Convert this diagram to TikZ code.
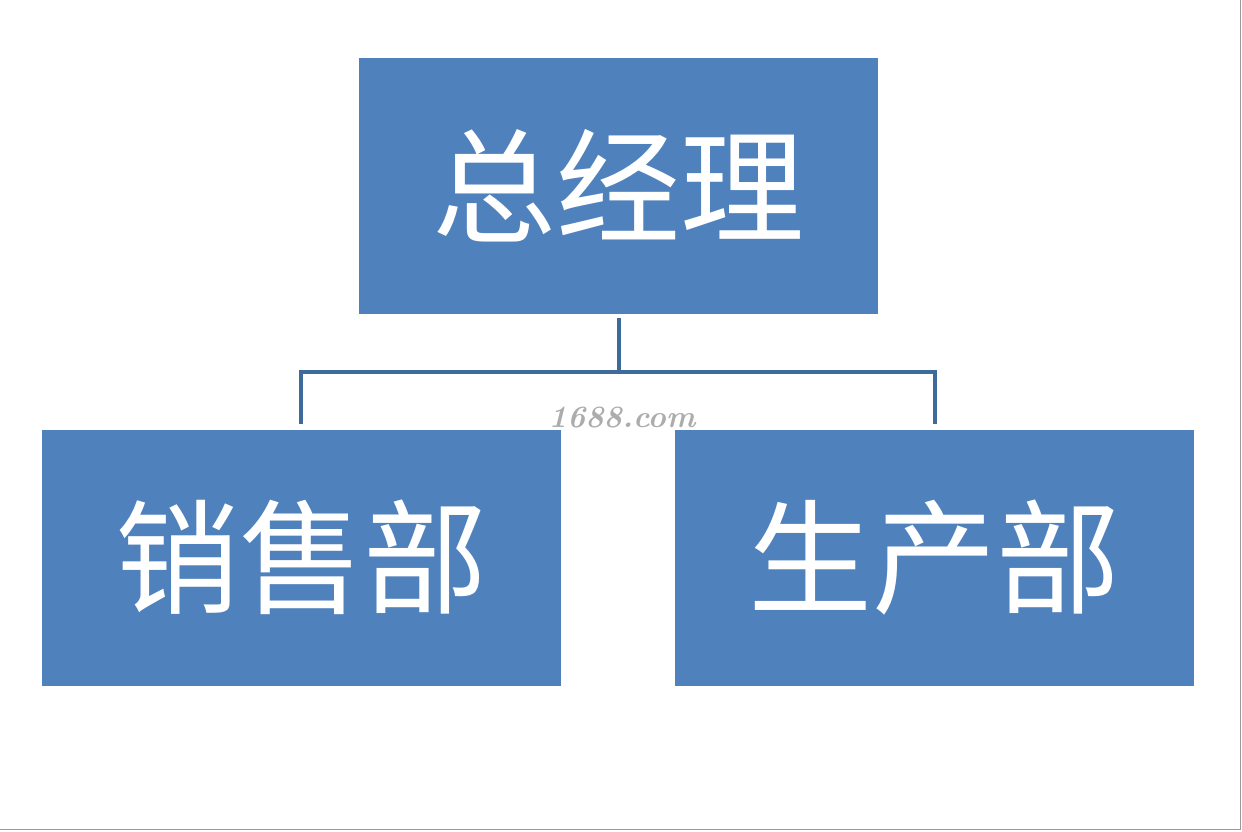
\documentclass[tikz,border=0pt]{standalone}
\usepackage{fontspec}
\newfontfamily\cjk{Noto Sans CJK SC}
\usepackage{tikz}
\usetikzlibrary{calc, positioning}

\definecolor{boxblue}{HTML}{4F81BD}
\definecolor{linkblue}{HTML}{3E6A9C}

\tikzset{
    orgbox/.style={rectangle, fill=boxblue, text=white, inner sep=0pt,
        minimum width=259.5pt, minimum height=128pt,
        font=\cjk\fontsize{62}{62}\selectfont},
    link/.style={draw=linkblue, line width=2pt}
}

\begin{document}
\begin{tikzpicture}[x=1pt, y=1pt]
    % Frame
    \useasboundingbox (0,0) rectangle (621,-415.5);
    \draw[gray!80, line width=0.8pt] (620.2,0) -- (620.2,-414.7) -- (0,-414.7);

    % Boxes
    \node[orgbox] (gm) at (309.25,-93) {总经理};
    \node[orgbox] (sales) at (150.5,-278.75) {销售部};
    \node[orgbox] (prod) at (467.25,-278.75) {生产部};

    % Connectors
    \coordinate (bus) at ($(gm.south)+(0,-29)$);
    \draw[link, shorten <=2pt] (gm.south) -- (bus);
    \draw[link, shorten <=2.5pt, shorten >=2.5pt] (sales.north) |- (bus) -| (prod.north);

    % Watermark
    \node[gray!65, font=\bfseries\itshape\fontsize{15.5}{15.5}\selectfont] (mark) at (311,-209) {1688.com};
\end{tikzpicture}
\end{document}
